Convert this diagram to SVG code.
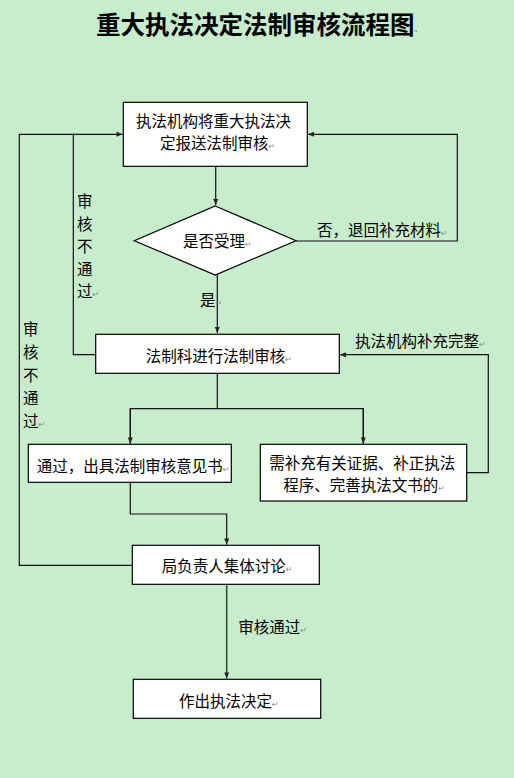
<svg xmlns="http://www.w3.org/2000/svg" width="514" height="778" viewBox="0 0 514 778">
<defs>
<marker id="arr" markerWidth="8" markerHeight="8" refX="7" refY="4" orient="auto" markerUnits="userSpaceOnUse">
<path d="M1,1.5 L7,4 L1,6.5 Z" fill="#222"/>
</marker>
<style>
.box{fill:#fff;stroke:#000;stroke-width:1.2}
.t{font-family:"Noto Sans CJK SC","Noto Sans",sans-serif;font-size:15.5px;fill:#000}
.pm{font-family:"DejaVu Sans",sans-serif;font-size:8px;fill:#888}
.c{fill:none;stroke:#111;stroke-width:1.2}
</style>
</defs>
<rect x="0" y="0" width="514" height="778" fill="#c7edcc"/>
<text x="96" y="34" style="font-family:'Noto Sans CJK SC',sans-serif;font-size:24.5px;font-weight:bold;fill:#000">重大执法决定法制审核流程图<tspan class="pm">·</tspan></text>

<g id="connectors">
<path class="c" d="M215.7,166 V205" marker-end="url(#arr)"/>
<path class="c" d="M296,241 H457.3 V134.3 H308" marker-end="url(#arr)"/>
<path class="c" d="M95.7,354.7 H73.3 V134.3 H122.5" marker-end="url(#arr)"/>
<path class="c" d="M132.3,565.3 H19.3 V134.3 H73.3"/>
<path class="c" d="M217.3,275 V333" marker-end="url(#arr)"/>
<path class="c" d="M466.7,472.7 H488.3 V354.7 H340" marker-end="url(#arr)"/>
<path class="c" d="M217.3,373.3 V408.7 M130.3,443.5 V408.7 H363.3 V443.5" />
<path class="c" d="M130.3,408.7 V443.5" marker-end="url(#arr)"/>
<path class="c" d="M363.3,408.7 V443.5" marker-end="url(#arr)"/>
<path class="c" d="M130.3,482.3 V514 H226.7 V544.5" marker-end="url(#arr)"/>
<path class="c" d="M226.7,584.3 V678.5" marker-end="url(#arr)" style="stroke:#2e4a32;stroke-width:1.5"/>
</g>

<g id="labels">
<text class="t" x="317" y="236">否，退回补充材料<tspan class="pm">↵</tspan></text>
<text class="t" x="77" y="207">审</text>
<text class="t" x="77" y="229.5">核</text>
<text class="t" x="77" y="252">不</text>
<text class="t" x="77" y="274.5">通</text>
<text class="t" x="77" y="297">过<tspan class="pm">↵</tspan></text>
<text class="t" x="23" y="335">审</text>
<text class="t" x="23" y="358">核</text>
<text class="t" x="23" y="381">不</text>
<text class="t" x="23" y="404">通</text>
<text class="t" x="23" y="427">过<tspan class="pm">↵</tspan></text>
<text class="t" x="200" y="306">是<tspan class="pm">↵</tspan></text>
<text class="t" x="355" y="347">执法机构补充完整<tspan class="pm">↵</tspan></text>
<text class="t" x="238.3" y="633">审核通过<tspan class="pm">↵</tspan></text>
</g>

<g id="n1">
<rect class="box" x="123.3" y="102.3" width="184" height="64"/>
<text class="t" x="136" y="127">执法机构将重大执法决</text>
<text class="t" x="160" y="149">定报送法制审核<tspan class="pm">↵</tspan></text>
</g>
<g id="n2">
<polygon class="box" points="215.2,206 296,240.7 215.2,275 134.3,240.7"/>
<text class="t" x="183" y="246.5">是否受理<tspan class="pm">↵</tspan></text>
</g>
<g id="n3">
<rect class="box" x="95.7" y="334.3" width="243.6" height="39"/>
<text class="t" x="145.7" y="362">法制科进行法制审核<tspan class="pm">↵</tspan></text>
</g>
<g id="n4">
<rect class="box" x="28.3" y="444.3" width="203" height="38"/>
<text class="t" x="36.7" y="472">通过，出具法制审核意见书<tspan class="pm">↵</tspan></text>
</g>
<g id="n5">
<rect class="box" x="260.3" y="444.3" width="206.4" height="56.7"/>
<text class="t" x="269.3" y="469">需补充有关证据、补正执法</text>
<text class="t" x="283.3" y="491">程序、完善执法文书的<tspan class="pm">↵</tspan></text>
</g>
<g id="n6">
<rect class="box" x="132.3" y="545.3" width="187" height="39"/>
<text class="t" x="161.7" y="572">局负责人集体讨论<tspan class="pm">↵</tspan></text>
</g>
<g id="n7">
<rect class="box" x="133.3" y="679.3" width="187.4" height="39"/>
<text class="t" x="179" y="707">作出执法决定<tspan class="pm">↵</tspan></text>
</g>
</svg>
